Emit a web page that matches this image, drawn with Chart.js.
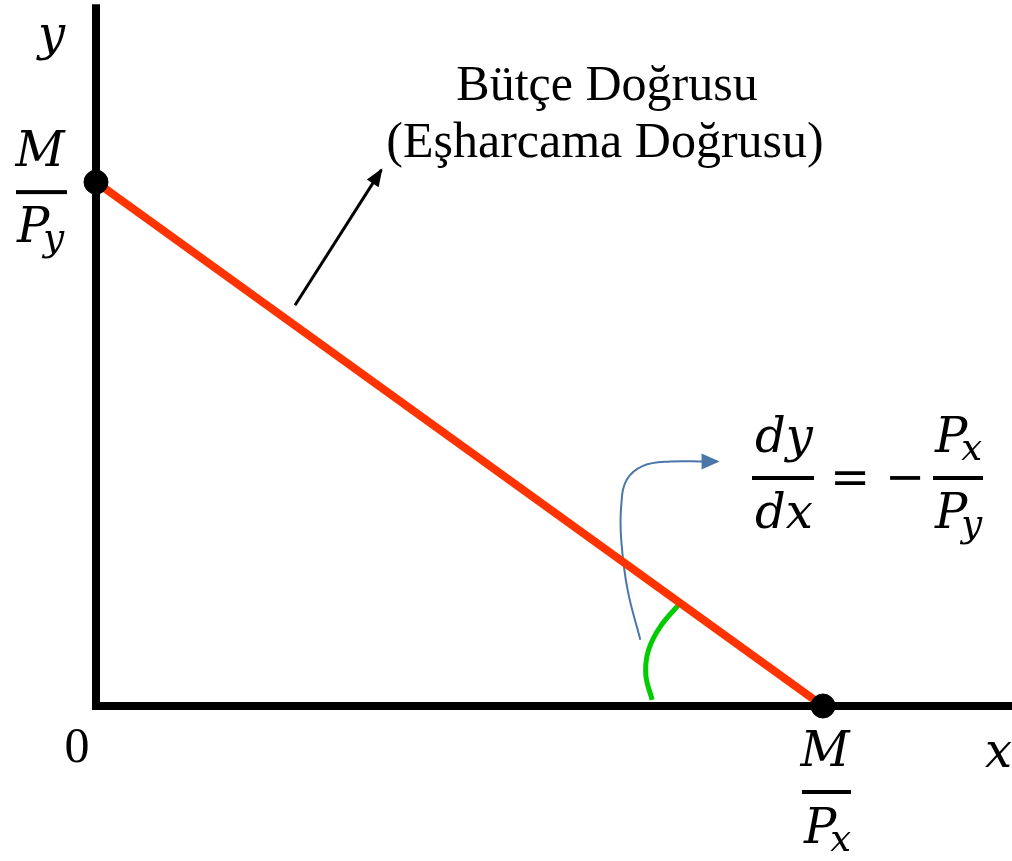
<!DOCTYPE html>
<html>
<head>
<meta charset="utf-8">
<script src="https://cdn.jsdelivr.net/npm/chart.js@4"></script>
<style>
  html, body { margin: 0; padding: 0; background: #ffffff; }
  #wrap { width: 1012px; height: 861px; position: relative; }
</style>
</head>
<body>
<div id="wrap"><canvas id="BudgetChart"></canvas></div>
<script>
(function () {
  "use strict";

  // Data in abstract units: M/Px = 8, M/Py = 6
  const xMax = 10.08;
  const yMax = 8.04;
  const yAxisTop = 7.99;
  const budgetX = [0, 8];
  const budgetY = [6, 0];
  const pointerX = [2.19, 3.14];
  const pointerY = [4.59, 6.14];
  const slopeArrowX = [5.99, 5.85, 5.78, 5.78, 5.84, 6.02, 6.32, 6.70, 6.84];
  const slopeArrowY = [0.76, 1.33, 1.90, 2.30, 2.59, 2.75, 2.80, 2.80, 2.80];
  const angleX = [6.12, 6.05, 6.08, 6.21, 6.43];
  const angleY = [0.07, 0.36, 0.64, 0.91, 1.18];

  const red_500   = '#ff3300';
  const blue_500  = '#4a76a8';
  const green_500 = '#00cc00';
  const black     = '#000000';

  const pts = (xs, ys) => xs.map((x, i) => ({ x: x, y: ys[i] }));

  const mathFont = 'italic 48px "DejaVu Serif"';
  const subFont  = 'italic 37px "DejaVu Serif"';
  const textFont = '50px "Liberation Serif"';

  function arrowHead(chart, dsIndex, color, len, half) {
    const p = chart.getDatasetMeta(dsIndex).data;
    const a = p[p.length - 2], b = p[p.length - 1];
    const ang = Math.atan2(b.y - a.y, b.x - a.x);
    const ctx = chart.ctx;
    ctx.save();
    ctx.fillStyle = color;
    ctx.translate(b.x, b.y);
    ctx.rotate(ang);
    ctx.beginPath();
    ctx.moveTo(2, 0);
    ctx.lineTo(-len, -half);
    ctx.lineTo(-len, half);
    ctx.closePath();
    ctx.fill();
    ctx.restore();
  }

  // P with a subscript letter
  function subP(ctx, sub, left, base) {
    ctx.font = mathFont;
    ctx.textAlign = 'left';
    ctx.fillText('P', left, base);
    const w = ctx.measureText('P').width;
    ctx.font = subFont;
    ctx.fillText(sub, left + w - 6, base + 8);
  }

  // centred glyph on a given vertical middle (for = and minus)
  function midGlyph(ctx, ch, cx, midY) {
    const m = ctx.measureText(ch);
    ctx.textAlign = 'center';
    ctx.fillText(ch, cx, midY + (m.actualBoundingBoxAscent - m.actualBoundingBoxDescent) / 2);
  }

  const annotations = {
    id: 'annotations',
    afterDatasetsDraw(chart) {
      const ctx = chart.ctx;
      const xs = chart.scales.x, ys = chart.scales.y;
      arrowHead(chart, 4, black, 16, 7);
      arrowHead(chart, 5, blue_500, 16, 8);

      ctx.save();
      ctx.fillStyle = black;
      ctx.textBaseline = 'alphabetic';

      // axis names
      ctx.font = mathFont;
      ctx.textAlign = 'left';
      ctx.fillText('y', 38, 50);
      ctx.fillText('x', 985, 767);

      // origin
      ctx.font = '50px "Liberation Serif"';
      ctx.textAlign = 'center';
      ctx.fillText('0', xs.getPixelForValue(0) - 19, 762);

      // M / Py on y axis
      const yInt = ys.getPixelForValue(budgetY[0]);
      ctx.font = mathFont;
      ctx.textAlign = 'center';
      ctx.fillText('M', 40, yInt - 16);
      ctx.fillRect(16, yInt + 8, 51, 4);
      subP(ctx, 'y', 17, yInt + 60);

      // M / Px on x axis
      const xInt = xs.getPixelForValue(budgetX[1]);
      ctx.font = mathFont;
      ctx.textAlign = 'center';
      ctx.fillText('M', xInt + 2, 766);
      ctx.fillRect(xInt - 21, 790, 49, 4);
      subP(ctx, 'x', xInt - 19, 843);

      // budget line label
      ctx.font = textFont;
      ctx.textAlign = 'center';
      ctx.fillText('Bütçe Doğrusu', 607, 100);
      ctx.fillText('(Eşharcama Doğrusu)', 605, 157);

      // slope formula
      ctx.font = mathFont;
      ctx.textAlign = 'center';
      ctx.fillText('dy', 784, 452);
      ctx.fillRect(752, 476, 62, 4);
      ctx.fillText('dx', 784, 528);
      ctx.font = '48px "DejaVu Serif"';
      midGlyph(ctx, '=', 850, 478);
      midGlyph(ctx, '\u2212', 905, 478);
      ctx.fillRect(933, 476, 50, 4);
      subP(ctx, 'x', 935, 452);
      subP(ctx, 'y', 935, 528);
      ctx.restore();
    }
  };

  const ctb = document.getElementById('BudgetChart').getContext('2d');
  const BudgetChart = new Chart(ctb, {
    type: 'scatter',
    data: {
      datasets: [
        {
          label: 'Kesişim noktaları',
          data: [{ x: 0, y: budgetY[0] }, { x: budgetX[1], y: 0 }],
          backgroundColor: black,
          borderColor: black,
          pointRadius: 12,
          order: 0,
          clip: false
        },
        {
          label: 'Bütçe Doğrusu',
          type: 'line',
          data: pts(budgetX, budgetY),
          borderColor: red_500,
          borderWidth: 8,
          pointRadius: 0,
          order: 1,
          clip: false
        },
        {
          label: 'y ekseni',
          type: 'line',
          data: [{ x: 0, y: 0 }, { x: 0, y: yAxisTop }],
          borderColor: black,
          borderWidth: 8,
          borderCapStyle: 'square',
          pointRadius: 0,
          order: 2,
          clip: false
        },
        {
          label: 'x ekseni',
          type: 'line',
          data: [{ x: 0, y: 0 }, { x: xMax, y: 0 }],
          borderColor: black,
          borderWidth: 8,
          borderCapStyle: 'square',
          pointRadius: 0,
          order: 2,
          clip: false
        },
        {
          label: 'ok',
          type: 'line',
          data: pts(pointerX, pointerY),
          borderColor: black,
          borderWidth: 3,
          pointRadius: 0,
          order: 3,
          clip: false
        },
        {
          label: 'eğim oku',
          type: 'line',
          data: pts(slopeArrowX, slopeArrowY),
          borderColor: blue_500,
          borderWidth: 2,
          tension: 0.4,
          pointRadius: 0,
          order: 3,
          clip: false
        },
        {
          label: 'açı',
          type: 'line',
          data: pts(angleX, angleY),
          borderColor: green_500,
          borderWidth: 5,
          tension: 0.4,
          pointRadius: 0,
          order: 3,
          clip: false
        }
      ]
    },
    options: {
      responsive: true,
      maintainAspectRatio: false,
      animation: false,
      layout: {
        autoPadding: false,
        padding: { left: 96, top: 4, right: 0, bottom: 155 }
      },
      scales: {
        x: { type: 'linear', min: 0, max: xMax, display: false },
        y: { type: 'linear', min: 0, max: yMax, display: false }
      },
      plugins: {
        legend: { display: false },
        tooltip: { enabled: false }
      }
    },
    plugins: [annotations]
  });
})();
</script>
</body>
</html>
